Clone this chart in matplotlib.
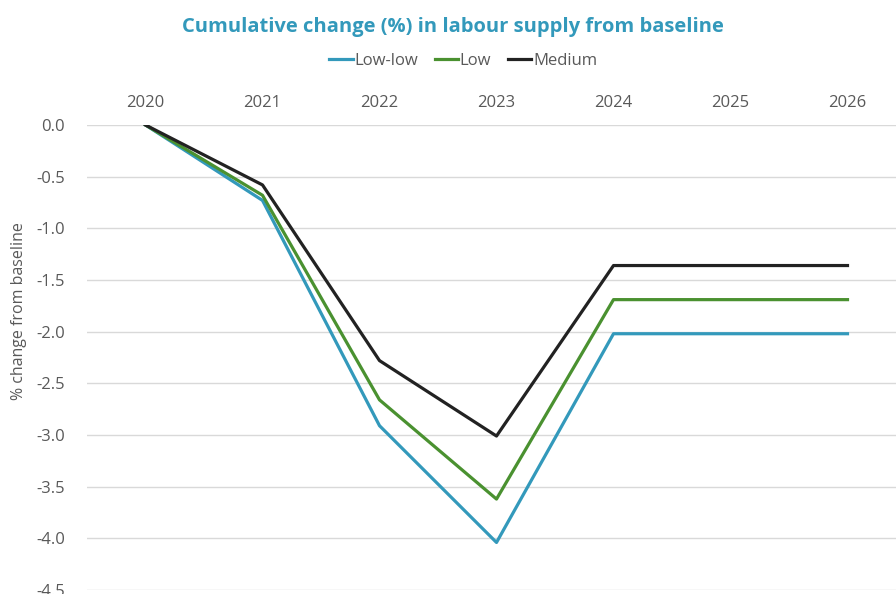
import matplotlib.pyplot as plt
import numpy as np

plt.rcParams['font.family'] = ['Open Sans', 'DejaVu Sans']

# years along the top axis
years = ['2020', '2021', '2022', '2023', '2024', '2025', '2026']

# cumulative change (%)
low_low = [0.0, -0.73, -2.91, -4.04, -2.02, -2.02, -2.02]
low = [0.0, -0.68, -2.66, -3.62, -1.69, -1.69, -1.69]
medium = [0.0, -0.58, -2.28, -3.01, -1.36, -1.36, -1.36]

fig = plt.figure(figsize=(8.96, 5.94), dpi=100)
# axes run past the right and bottom edges, like the cropped original
ax = fig.add_axes([87 / 896, (594 - 590) / 594, (906 - 87) / 896, (590 - 125) / 594])

x = np.arange(len(years))
ax.plot(x, low_low, color='#3399bb', lw=2.3, label='Low-low')
ax.plot(x, low, color='#4a9130', lw=2.3, label='Low')
ax.plot(x, medium, color='#222222', lw=2.3, label='Medium')

ax.set_xlim(-0.5, 6.5)
ax.set_ylim(-4.5, 0)
ax.set_yticks(np.arange(0, -4.51, -0.5))
ax.set_yticklabels(['%.1f' % v for v in np.arange(0, -4.51, -0.5)])
ax.set_xticks(x)
ax.set_xticklabels(years)
ax.xaxis.tick_top()
ax.tick_params(axis='both', length=0, labelsize=12, labelcolor='#595959')
ax.tick_params(axis='x', pad=10)
ax.tick_params(axis='y', pad=16)
ax.grid(axis='y', color='#d9d9d9', lw=1)
ax.set_axisbelow(True)
for s in ax.spines.values():
    s.set_visible(False)

ax.set_ylabel('% change from baseline', color='#595959', fontsize=11.5)
ax.yaxis.set_label_coords(-0.073, 0.6)

fig.text(0.506, 0.955, 'Cumulative change (%) in labour supply from baseline',
         ha='center', va='center', fontsize=14.5, fontweight='bold', color='#3399bb')
fig.legend(loc='center', bbox_to_anchor=(0.517, 0.897), ncol=3, frameon=False,
           fontsize=12, handlelength=1.4, handletextpad=0.1, columnspacing=1.0,
           labelcolor='#595959')

plt.savefig('out.png', dpi=100)
